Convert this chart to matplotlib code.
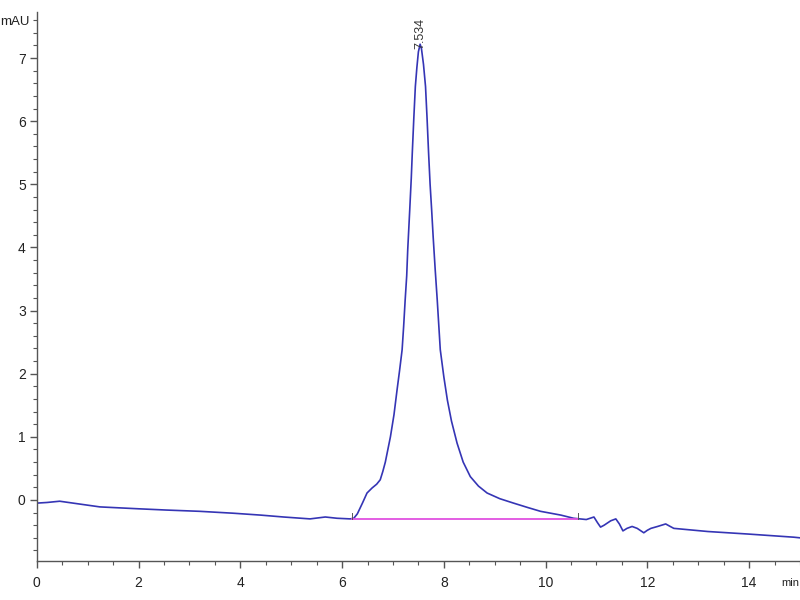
import matplotlib
matplotlib.use("Agg")
import matplotlib.pyplot as plt
from matplotlib.ticker import MultipleLocator

plt.rcParams['font.family'] = ['Liberation Sans', 'DejaVu Sans']

# Chromatogram signal (time in min, absorbance in mAU)
time_min = [0.0, 0.2, 0.45, 0.8, 1.24, 2.0, 2.55, 3.2, 3.86, 4.4, 4.85, 5.37, 5.67, 5.9,
            6.16, 6.23, 6.3, 6.4, 6.49, 6.59, 6.68, 6.75, 6.80, 6.85, 6.9, 6.95, 7.02,
            7.08, 7.13, 7.18, 7.21, 7.24, 7.27, 7.29, 7.33, 7.36, 7.38, 7.41, 7.44, 7.47,
            7.50, 7.534, 7.56, 7.60, 7.64, 7.67, 7.70, 7.73, 7.76, 7.79, 7.83, 7.87, 7.93,
            8.0, 8.07, 8.15, 8.26, 8.38, 8.52, 8.68, 8.85, 9.1, 9.37, 9.65, 9.90, 10.3,
            10.55, 10.8, 10.95, 11.02, 11.08, 11.15, 11.28, 11.38, 11.45, 11.52, 11.6,
            11.7, 11.8, 11.93, 12.0, 12.07, 12.2, 12.36, 12.45, 12.52, 13.19, 13.98,
            14.88, 15.0]
signal_mau = [-0.05, -0.04, -0.02, -0.06, -0.11, -0.14, -0.16, -0.18, -0.21, -0.24, -0.27,
              -0.30, -0.27, -0.29, -0.30, -0.29, -0.22, -0.05, 0.11, 0.19, 0.25, 0.32,
              0.45, 0.6, 0.8, 1.0, 1.35, 1.74, 2.05, 2.38, 2.75, 3.17, 3.55, 3.96, 4.6,
              5.1, 5.5, 6.05, 6.55, 6.85, 7.1, 7.22, 7.15, 6.9, 6.55, 6.05, 5.5, 5.0, 4.6,
              4.17, 3.65, 3.17, 2.38, 1.95, 1.58, 1.25, 0.90, 0.60, 0.37, 0.22, 0.11, 0.02,
              -0.05, -0.12, -0.18, -0.24, -0.29, -0.31, -0.27, -0.36, -0.43, -0.40, -0.33,
              -0.30, -0.38, -0.49, -0.45, -0.42, -0.45, -0.52, -0.48, -0.45, -0.42, -0.38,
              -0.42, -0.45, -0.50, -0.54, -0.59, -0.60]

# Integration baseline
baseline_x = [6.2, 10.63]
baseline_y = [-0.30, -0.30]

peak_time = 7.534
peak_label = "7.534"

fig = plt.figure(figsize=(8, 6), dpi=100)
ax = fig.add_axes([0.046, 0.065, 0.954, 0.915])

ax.plot(time_min, signal_mau, color='#3535b5', lw=1.2)
ax.plot(baseline_x, baseline_y, color='#e050e0', lw=1.3)
for bx in baseline_x:
    ax.plot([bx, bx], [-0.30, -0.20], color='#555555', lw=0.7)

ax.text(peak_time, 7.15, peak_label, rotation=90, ha='center', va='bottom',
        fontsize=9, color='#333333')

ax.set_xlim(0, 15)
ax.set_ylim(-0.967, 7.73)
ax.xaxis.set_major_locator(MultipleLocator(2))
ax.xaxis.set_minor_locator(MultipleLocator(0.5))
ax.yaxis.set_major_locator(MultipleLocator(1))
ax.yaxis.set_minor_locator(MultipleLocator(0.2))

for s in ['top', 'right']:
    ax.spines[s].set_visible(False)
for s in ['left', 'bottom']:
    ax.spines[s].set_color('#555555')
    ax.spines[s].set_linewidth(1.0)

ax.tick_params(axis='both', which='major', direction='out', length=5, width=1,
               color='#555555', labelsize=10, labelcolor='#222222', pad=6)
ax.tick_params(axis='both', which='minor', direction='out', length=3, width=0.8,
               color='#555555')
ax.tick_params(axis='y', pad=3)

fig.text(0.019, 0.963, 'mAU', fontsize=9.5, color='#222222', ha='center', va='center')
fig.text(0.988, 0.028, 'min', fontsize=8, color='#222222', ha='center', va='center')

fig.savefig('out.png', dpi=100)
